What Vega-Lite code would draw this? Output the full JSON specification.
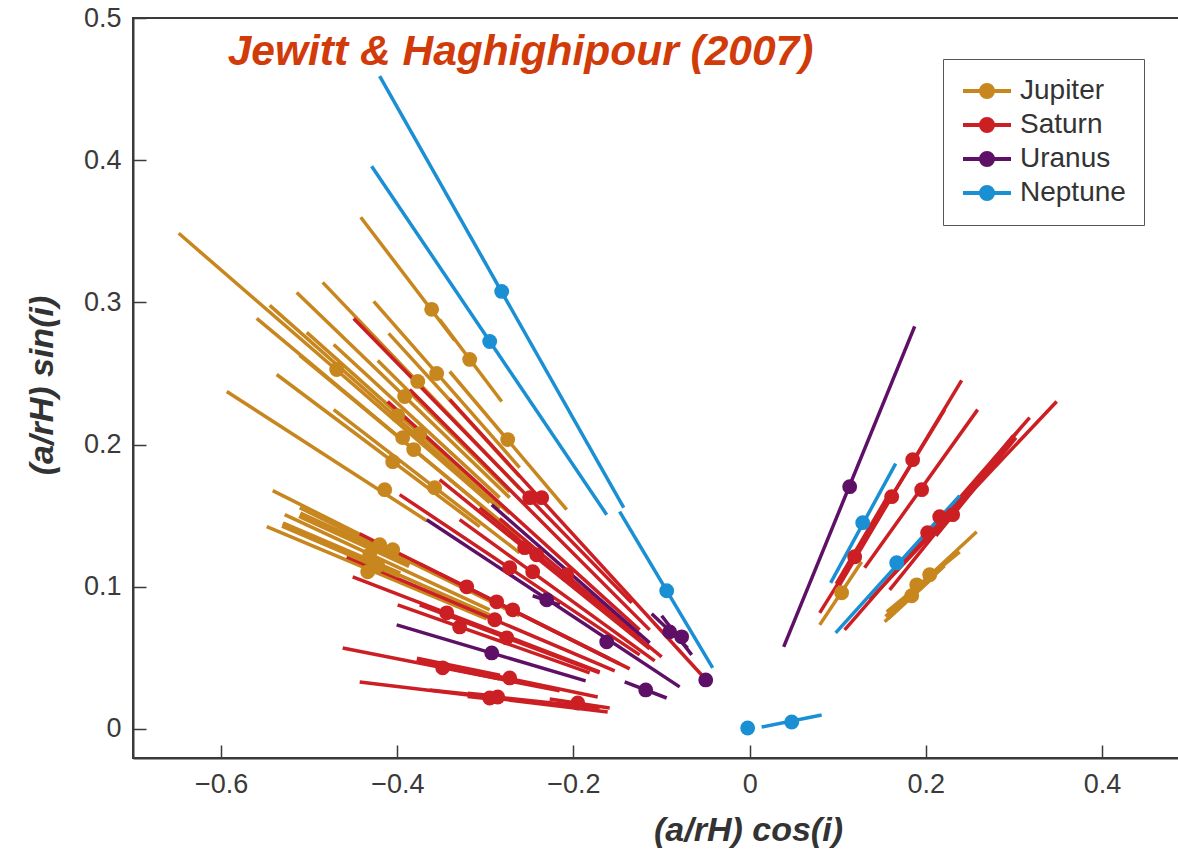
{
  "$schema": "https://vega.github.io/schema/vega-lite/v6.json",
  "width": 1048,
  "height": 740,
  "autosize": {"type": "none"},
  "padding": {"left": 133, "top": 18, "right": -3, "bottom": 101},
  "background": "white",
  "config": {
    "view": {"stroke": "#3a3a3a", "strokeWidth": 2},
    "axis": {
      "grid": false,
      "domainColor": "#3a3a3a",
      "domainWidth": 2,
      "tickColor": "#3a3a3a",
      "tickWidth": 1.5,
      "tickSize": -13,
      "labelFont": "Liberation Sans",
      "labelFontSize": 27,
      "labelColor": "#3a3a3a",
      "titleFont": "Liberation Sans",
      "titleFontSize": 34,
      "titleFontWeight": "bold",
      "titleFontStyle": "italic",
      "titleColor": "#333333"
    }
  },
  "datasets": {
    "objs": [
      {"p": "Jupiter", "x1": -0.6481, "y1": 0.3486, "x2": -0.2951, "y2": 0.1592, "xd": -0.4688, "yd": 0.2528},
      {"p": "Jupiter", "x1": -0.4415, "y1": 0.3599, "x2": -0.3348, "y2": 0.2732, "xd": -0.3610, "yd": 0.2951},
      {"p": "Jupiter", "x1": -0.3519, "y1": 0.2880, "x2": -0.2815, "y2": 0.2303, "xd": -0.3178, "yd": 0.2599},
      {"p": "Jupiter", "x1": -0.4268, "y1": 0.3007, "x2": -0.2611, "y2": 0.1838, "xd": -0.3553, "yd": 0.2500},
      {"p": "Jupiter", "x1": -0.4847, "y1": 0.3141, "x2": -0.2611, "y2": 0.1690, "xd": -0.3768, "yd": 0.2444},
      {"p": "Jupiter", "x1": -0.5596, "y1": 0.2887, "x2": -0.2611, "y2": 0.1345, "xd": -0.3939, "yd": 0.2049},
      {"p": "Jupiter", "x1": -0.5108, "y1": 0.2627, "x2": -0.2838, "y2": 0.1465, "xd": -0.3814, "yd": 0.1965},
      {"p": "Jupiter", "x1": -0.5369, "y1": 0.2493, "x2": -0.3065, "y2": 0.1423, "xd": -0.4052, "yd": 0.1880},
      {"p": "Jupiter", "x1": -0.5936, "y1": 0.2373, "x2": -0.3666, "y2": 0.1465, "xd": -0.4143, "yd": 0.1683},
      {"p": "Jupiter", "x1": -0.4722, "y1": 0.2246, "x2": -0.2611, "y2": 0.1239, "xd": -0.3576, "yd": 0.1697},
      {"p": "Jupiter", "x1": -0.3405, "y1": 0.2514, "x2": -0.2077, "y2": 0.1542, "xd": -0.2747, "yd": 0.2035},
      {"p": "Jupiter", "x1": -0.5142, "y1": 0.3070, "x2": -0.2724, "y2": 0.1627, "xd": -0.3916, "yd": 0.2338},
      {"p": "Jupiter", "x1": -0.5448, "y1": 0.2979, "x2": -0.2838, "y2": 0.1549, "xd": -0.3996, "yd": 0.2204},
      {"p": "Jupiter", "x1": -0.5028, "y1": 0.2789, "x2": -0.2724, "y2": 0.1514, "xd": -0.3746, "yd": 0.2077},
      {"p": "Jupiter", "x1": -0.4722, "y1": 0.2704, "x2": -0.2838, "y2": 0.1627, "xd": null, "yd": null},
      {"p": "Jupiter", "x1": -0.4098, "y1": 0.2782, "x2": -0.2611, "y2": 0.1775, "xd": null, "yd": null},
      {"p": "Jupiter", "x1": -0.4222, "y1": 0.2592, "x2": -0.2724, "y2": 0.1669, "xd": null, "yd": null},
      {"p": "Jupiter", "x1": -0.5414, "y1": 0.1676, "x2": -0.2985, "y2": 0.0923, "xd": -0.4052, "yd": 0.1261},
      {"p": "Jupiter", "x1": -0.5278, "y1": 0.1507, "x2": -0.2951, "y2": 0.0838, "xd": -0.4313, "yd": 0.1225},
      {"p": "Jupiter", "x1": -0.5482, "y1": 0.1423, "x2": -0.2985, "y2": 0.0775, "xd": -0.4336, "yd": 0.1106},
      {"p": "Jupiter", "x1": -0.5301, "y1": 0.1444, "x2": -0.2951, "y2": 0.0803, "xd": -0.4222, "yd": 0.1148},
      {"p": "Jupiter", "x1": -0.5108, "y1": 0.1556, "x2": -0.2611, "y2": 0.0796, "xd": -0.4200, "yd": 0.1296},
      {"p": "Jupiter", "x1": 0.0795, "y1": 0.0732, "x2": 0.1271, "y2": 0.1176, "xd": 0.1044, "yd": 0.0958},
      {"p": "Jupiter", "x1": 0.1589, "y1": 0.0817, "x2": 0.2577, "y2": 0.1387, "xd": 0.2043, "yd": 0.1085},
      {"p": "Jupiter", "x1": 0.1555, "y1": 0.0824, "x2": 0.2384, "y2": 0.1246, "xd": 0.1896, "yd": 0.1014},
      {"p": "Jupiter", "x1": 0.1532, "y1": 0.0754, "x2": 0.2213, "y2": 0.1148, "xd": 0.1839, "yd": 0.0937},
      {"p": "Saturn", "x1": -0.4495, "y1": 0.2887, "x2": -0.1339, "y2": 0.0887, "xd": -0.2497, "yd": 0.1627},
      {"p": "Saturn", "x1": -0.3405, "y1": 0.2317, "x2": -0.0545, "y2": 0.0380, "xd": -0.2361, "yd": 0.1627},
      {"p": "Saturn", "x1": -0.4109, "y1": 0.2303, "x2": -0.1249, "y2": 0.0697, "xd": null, "yd": null},
      {"p": "Saturn", "x1": -0.3859, "y1": 0.2387, "x2": -0.1135, "y2": 0.0697, "xd": null, "yd": null},
      {"p": "Saturn", "x1": -0.3519, "y1": 0.1753, "x2": -0.1135, "y2": 0.0563, "xd": -0.2554, "yd": 0.1275},
      {"p": "Saturn", "x1": -0.3065, "y1": 0.1556, "x2": -0.0999, "y2": 0.0507, "xd": -0.2418, "yd": 0.1225},
      {"p": "Saturn", "x1": -0.3973, "y1": 0.1648, "x2": -0.1249, "y2": 0.0521, "xd": -0.2724, "yd": 0.1134},
      {"p": "Saturn", "x1": -0.3292, "y1": 0.1472, "x2": -0.1078, "y2": 0.0479, "xd": -0.2463, "yd": 0.1106},
      {"p": "Saturn", "x1": -0.2838, "y1": 0.1479, "x2": -0.1249, "y2": 0.0648, "xd": -0.2077, "yd": 0.1085},
      {"p": "Saturn", "x1": -0.4427, "y1": 0.1373, "x2": -0.1476, "y2": 0.0458, "xd": -0.3212, "yd": 0.1000},
      {"p": "Saturn", "x1": -0.3746, "y1": 0.1162, "x2": -0.1589, "y2": 0.0493, "xd": -0.2872, "yd": 0.0894},
      {"p": "Saturn", "x1": -0.3519, "y1": 0.1092, "x2": -0.1362, "y2": 0.0423, "xd": -0.2690, "yd": 0.0838},
      {"p": "Saturn", "x1": -0.4506, "y1": 0.1070, "x2": -0.1703, "y2": 0.0401, "xd": -0.3439, "yd": 0.0817},
      {"p": "Saturn", "x1": -0.3996, "y1": 0.0873, "x2": -0.1816, "y2": 0.0394, "xd": -0.3292, "yd": 0.0718},
      {"p": "Saturn", "x1": -0.4574, "y1": 0.1211, "x2": -0.1532, "y2": 0.0408, "xd": -0.2894, "yd": 0.0768},
      {"p": "Saturn", "x1": -0.3746, "y1": 0.0873, "x2": -0.1703, "y2": 0.0394, "xd": -0.2758, "yd": 0.0641},
      {"p": "Saturn", "x1": -0.4620, "y1": 0.0570, "x2": -0.2157, "y2": 0.0268, "xd": -0.3485, "yd": 0.0430},
      {"p": "Saturn", "x1": -0.3746, "y1": 0.0486, "x2": -0.1725, "y2": 0.0225, "xd": -0.2724, "yd": 0.0359},
      {"p": "Saturn", "x1": -0.4427, "y1": 0.0331, "x2": -0.1612, "y2": 0.0120, "xd": -0.2951, "yd": 0.0218},
      {"p": "Saturn", "x1": -0.3632, "y1": 0.0275, "x2": -0.1703, "y2": 0.0148, "xd": -0.2860, "yd": 0.0225},
      {"p": "Saturn", "x1": -0.2270, "y1": 0.0211, "x2": -0.1589, "y2": 0.0148, "xd": -0.1952, "yd": 0.0183},
      {"p": "Saturn", "x1": 0.0795, "y1": 0.0817, "x2": 0.1476, "y2": 0.1493, "xd": 0.1192, "yd": 0.1211},
      {"p": "Saturn", "x1": 0.1078, "y1": 0.1092, "x2": 0.2213, "y2": 0.2246, "xd": 0.1612, "yd": 0.1634},
      {"p": "Saturn", "x1": 0.1362, "y1": 0.1380, "x2": 0.2406, "y2": 0.2451, "xd": 0.1850, "yd": 0.1894},
      {"p": "Saturn", "x1": 0.1305, "y1": 0.1134, "x2": 0.2588, "y2": 0.2246, "xd": 0.1952, "yd": 0.1683},
      {"p": "Saturn", "x1": 0.1078, "y1": 0.0697, "x2": 0.3178, "y2": 0.2190, "xd": 0.2020, "yd": 0.1380},
      {"p": "Saturn", "x1": 0.1362, "y1": 0.0908, "x2": 0.3485, "y2": 0.2303, "xd": 0.2157, "yd": 0.1493},
      {"p": "Saturn", "x1": 0.1589, "y1": 0.0979, "x2": 0.3031, "y2": 0.2085, "xd": 0.2304, "yd": 0.1507},
      {"p": "Uranus", "x1": 0.0386, "y1": 0.0577, "x2": 0.1873, "y2": 0.2831, "xd": 0.1135, "yd": 0.1704},
      {"p": "Uranus", "x1": -0.3666, "y1": 0.1472, "x2": -0.0795, "y2": 0.0296, "xd": -0.1623, "yd": 0.0613},
      {"p": "Uranus", "x1": -0.2928, "y1": 0.1577, "x2": -0.1135, "y2": 0.0606, "xd": null, "yd": null},
      {"p": "Uranus", "x1": -0.2463, "y1": 0.0937, "x2": -0.2157, "y2": 0.0873, "xd": -0.2304, "yd": 0.0908},
      {"p": "Uranus", "x1": -0.1419, "y1": 0.0331, "x2": -0.0942, "y2": 0.0218, "xd": -0.1180, "yd": 0.0275},
      {"p": "Uranus", "x1": -0.1112, "y1": 0.0810, "x2": -0.0704, "y2": 0.0570, "xd": -0.0908, "yd": 0.0683},
      {"p": "Uranus", "x1": -0.0999, "y1": 0.0796, "x2": -0.0658, "y2": 0.0521, "xd": -0.0772, "yd": 0.0648},
      {"p": "Uranus", "x1": -0.0499, "y1": 0.0345, "x2": -0.0499, "y2": 0.0345, "xd": -0.0499, "yd": 0.0345},
      {"p": "Uranus", "x1": -0.4007, "y1": 0.0732, "x2": -0.1862, "y2": 0.0338, "xd": -0.2928, "yd": 0.0535},
      {"p": "Neptune", "x1": -0.4200, "y1": 0.4592, "x2": -0.1430, "y2": 0.1556, "xd": -0.2815, "yd": 0.3077},
      {"p": "Neptune", "x1": -0.1476, "y1": 0.1528, "x2": -0.0420, "y2": 0.0430, "xd": -0.0942, "yd": 0.0972},
      {"p": "Neptune", "x1": -0.4291, "y1": 0.3958, "x2": -0.1623, "y2": 0.1507, "xd": -0.2951, "yd": 0.2725},
      {"p": "Neptune", "x1": -0.0023, "y1": 0.0007, "x2": -0.0023, "y2": 0.0007, "xd": -0.0023, "yd": 0.0007},
      {"p": "Neptune", "x1": 0.0136, "y1": 0.0014, "x2": 0.0817, "y2": 0.0099, "xd": 0.0477, "yd": 0.0049},
      {"p": "Neptune", "x1": 0.0919, "y1": 0.1028, "x2": 0.1657, "y2": 0.1866, "xd": 0.1283, "yd": 0.1451},
      {"p": "Neptune", "x1": 0.0976, "y1": 0.0676, "x2": 0.2384, "y2": 0.1641, "xd": 0.1669, "yd": 0.1169}
    ],
    "thick": [
      {"p": "Jupiter", "x1": -0.5301, "y1": 0.1437, "x2": -0.3973, "y2": 0.1085},
      {"p": "Jupiter", "x1": -0.5108, "y1": 0.1507, "x2": -0.3859, "y2": 0.1155},
      {"p": "Jupiter", "x1": 0.1555, "y1": 0.0782, "x2": 0.2100, "y2": 0.1092},
      {"p": "Saturn", "x1": -0.3781, "y1": 0.0486, "x2": -0.2838, "y2": 0.0366},
      {"p": "Saturn", "x1": -0.3200, "y1": 0.0240, "x2": -0.2860, "y2": 0.0218},
      {"p": "Saturn", "x1": 0.0999, "y1": 0.1014, "x2": 0.1589, "y2": 0.1634},
      {"p": "Saturn", "x1": 0.2100, "y1": 0.1366, "x2": 0.3008, "y2": 0.2056}
    ]
  },
  "layer": [
    {
      "data": {"name": "objs"},
      "mark": {"type": "rule", "strokeWidth": 3.5, "strokeCap": "butt"},
      "encoding": {
        "x": {
          "field": "x1", "type": "quantitative",
          "scale": {"domain": [-0.7, 0.4896], "nice": false, "zero": false},
          "axis": {
            "values": [-0.6, -0.4, -0.2, 0, 0.2, 0.4],
            "format": "~g",
            "labelPadding": 26,
            "title": "(a/rH) cos(i)",
            "titleX": 615,
            "titleY": 72,
            "titleBaseline": "middle"
          }
        },
        "y": {
          "field": "y1", "type": "quantitative",
          "scale": {"domain": [-0.0204, 0.5], "nice": false, "zero": false},
          "axis": {
            "values": [0, 0.1, 0.2, 0.3, 0.4, 0.5],
            "format": "~g",
            "labelPadding": 25,
            "title": "(a/rH) sin(i)",
            "titleX": -91,
            "titleY": 367,
            "titleBaseline": "middle"
          }
        },
        "x2": {"field": "x2"},
        "y2": {"field": "y2"},
        "color": {
          "field": "p", "type": "nominal",
          "scale": {"domain": ["Jupiter", "Saturn", "Uranus", "Neptune"], "range": ["#C8861E", "#CC1F24", "#5E1066", "#1A8FD3"]},
          "legend": {
            "orient": "none",
            "legendX": 810,
            "legendY": 41,
            "title": null,
            "symbolType": "M-3.2,0H3.2M0.8,0A0.8,0.8,0,1,1,-0.8,0A0.8,0.8,0,1,1,0.8,0Z",
            "symbolSize": 225,
            "symbolStrokeWidth": 4,
            "labelFont": "Liberation Sans",
            "labelFontSize": 28,
            "labelColor": "#333333",
            "strokeColor": "#555555",
            "fillColor": "white",
            "padding": 18,
            "rowPadding": 6,
            "symbolOffset": 12,
            "labelOffset": 19,
            "encode": {
              "symbols": {
                "update": {
                  "fill": {"scale": "color", "field": "value"},
                  "stroke": {"scale": "color", "field": "value"}
                }
              }
            }
          }
        }
      }
    },
    {
      "data": {"name": "thick"},
      "mark": {"type": "rule", "strokeWidth": 7, "strokeCap": "butt"},
      "encoding": {
        "x": {"field": "x1", "type": "quantitative"},
        "y": {"field": "y1", "type": "quantitative"},
        "x2": {"field": "x2"},
        "y2": {"field": "y2"},
        "color": {"field": "p", "type": "nominal", "legend": null}
      }
    },
    {
      "data": {"name": "objs"},
      "transform": [{"filter": "isValid(datum.xd)"}],
      "mark": {"type": "point", "filled": true, "size": 220, "opacity": 1},
      "encoding": {
        "x": {"field": "xd", "type": "quantitative"},
        "y": {"field": "yd", "type": "quantitative"},
        "color": {"field": "p", "type": "nominal", "legend": null}
      }
    },
    {
      "data": {"values": [{"t": "Jewitt & Haghighipour (2007)", "tx": -0.5925, "ty": 0.467}]},
      "mark": {"type": "text", "align": "left", "baseline": "alphabetic", "font": "Liberation Sans", "fontSize": 42.5, "fontWeight": "bold", "fontStyle": "italic", "color": "#D13B0A"},
      "encoding": {
        "x": {"field": "tx", "type": "quantitative"},
        "y": {"field": "ty", "type": "quantitative"},
        "text": {"field": "t"}
      }
    }
  ]
}
